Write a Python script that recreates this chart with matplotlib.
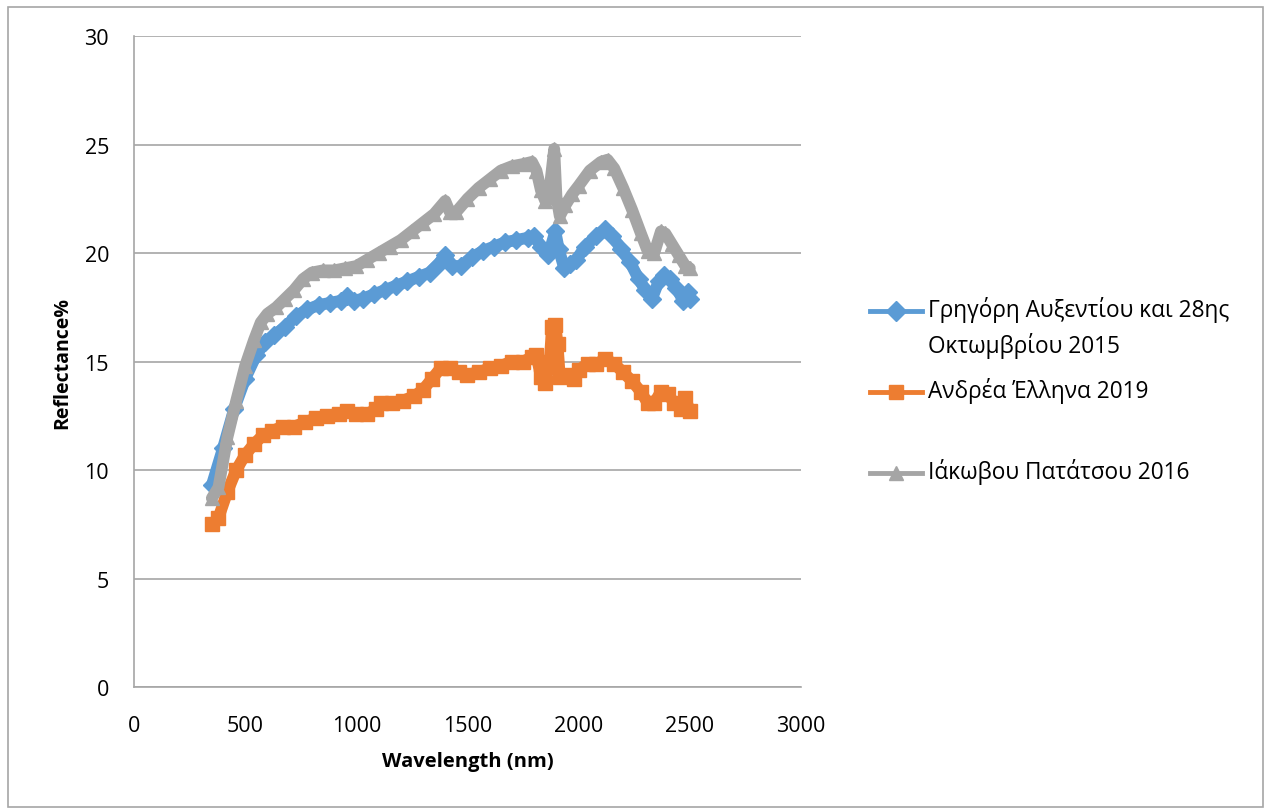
#! /usr/bin/env python
# -*- coding: utf-8 -*-
"""Reflectance spectra of three street surfaces (Excel-style line chart)."""

import matplotlib
matplotlib.use('Agg')
import matplotlib.pyplot as plt
from matplotlib.lines import Line2D
from matplotlib.patches import Rectangle

plt.rcParams['font.family'] = ['Open Sans', 'DejaVu Sans']

# Γρηγόρη Αυξεντίου και 28ης Οκτωμβρίου 2015
wl_blue = [350, 400, 450, 500, 550, 590, 630, 680, 730, 780, 830, 880, 930,
           960, 990, 1030, 1080, 1130, 1180, 1230, 1280, 1330, 1370, 1400,
           1430, 1470, 1520, 1570, 1620, 1670, 1720, 1770, 1800, 1830, 1860,
           1875, 1895, 1910, 1935, 1960, 1990, 2030, 2080, 2120, 2150, 2190,
           2230, 2270, 2300, 2330, 2360, 2385, 2410, 2440, 2470, 2490, 2500]
refl_blue = [9.3, 11.0, 12.8, 14.2, 15.3, 15.9, 16.2, 16.6, 17.1, 17.4, 17.6,
             17.7, 17.8, 18.0, 17.8, 17.9, 18.1, 18.3, 18.5, 18.7, 18.9, 19.1,
             19.5, 19.9, 19.4, 19.4, 19.8, 20.1, 20.3, 20.5, 20.6, 20.7, 20.8,
             20.3, 19.9, 20.3, 21.0, 20.2, 19.3, 19.5, 19.7, 20.3, 20.8, 21.1,
             20.8, 20.2, 19.6, 18.8, 18.3, 17.9, 18.7, 19.0, 18.8, 18.4, 17.8,
             18.2, 17.9]

# Ανδρέα Έλληνα 2019
wl_orange = [350, 380, 420, 460, 500, 540, 580, 620, 670, 720, 770, 820, 870,
             920, 960, 1000, 1050, 1090, 1110, 1160, 1210, 1260, 1300, 1340,
             1380, 1420, 1460, 1500, 1550, 1600, 1650, 1700, 1750, 1790, 1810,
             1830, 1850, 1870, 1880, 1895, 1905, 1915, 1940, 1980, 2000, 2040,
             2080, 2120, 2160, 2200, 2240, 2280, 2310, 2340, 2370, 2400, 2430,
             2460, 2480, 2500]
refl_orange = [7.5, 7.8, 9.0, 10.0, 10.7, 11.2, 11.6, 11.8, 12.0, 12.0, 12.2,
               12.4, 12.5, 12.6, 12.7, 12.6, 12.6, 12.8, 13.1, 13.1, 13.2, 13.4,
               13.7, 14.2, 14.7, 14.7, 14.5, 14.4, 14.5, 14.7, 14.8, 15.0, 15.0,
               15.2, 15.3, 14.3, 14.0, 15.0, 16.6, 16.7, 15.8, 14.3, 14.4, 14.2,
               14.6, 14.9, 14.9, 15.1, 14.9, 14.5, 14.1, 13.6, 13.1, 13.1, 13.6,
               13.5, 13.1, 12.8, 13.3, 12.7]

# Ιάκωβου Πατάτσου 2016
wl_gray = [350, 380, 420, 460, 500, 540, 570, 600, 640, 680, 720, 760, 800,
           850, 900, 950, 1000, 1050, 1100, 1150, 1200, 1250, 1300, 1350, 1400,
           1420, 1450, 1500, 1550, 1600, 1650, 1700, 1750, 1790, 1810, 1830,
           1850, 1870, 1890, 1900, 1915, 1940, 1970, 2000, 2050, 2100, 2130,
           2160, 2200, 2240, 2280, 2310, 2340, 2370, 2390, 2420, 2450, 2480,
           2500]
refl_gray = [8.7, 9.2, 11.5, 13.2, 14.8, 16.0, 16.8, 17.2, 17.5, 17.9, 18.3,
             18.8, 19.1, 19.2, 19.2, 19.3, 19.4, 19.7, 20.0, 20.3, 20.6, 21.0,
             21.4, 21.8, 22.4, 21.9, 21.9, 22.5, 23.0, 23.4, 23.8, 24.0, 24.1,
             24.2, 23.8, 22.9, 22.4, 23.0, 24.8, 22.6, 21.7, 22.2, 22.7, 23.1,
             23.8, 24.2, 24.3, 23.9, 23.0, 22.0, 20.9, 20.1, 20.0, 21.0, 20.9,
             20.4, 19.9, 19.4, 19.3]

labels = ['Γρηγόρη Αυξεντίου και 28ης\nΟκτωμβρίου 2015',
          'Ανδρέα Έλληνα 2019',
          'Ιάκωβου Πατάτσου 2016']
colors = ['#5B9BD5', '#ED7D31', '#A5A5A5']
markers = ['D', 's', '^']


def main():
    fig = plt.figure(figsize=(12.69, 8.12), dpi=100)
    ax = fig.add_axes([0.1056, 0.1527, 0.5256, 0.8017])

    series = [(wl_blue, refl_blue), (wl_orange, refl_orange),
              (wl_gray, refl_gray)]
    for (wl, refl), c, m in zip(series, colors, markers):
        ax.plot(wl, refl, color=c, lw=8.5, marker=m, ms=9.5, mec=c, mfc=c,
                solid_joinstyle='round', solid_capstyle='round')

    ax.set_xlim(0, 3000)
    ax.set_ylim(0, 30)
    ax.set_xticks(range(0, 3001, 500))
    ax.set_yticks(range(0, 31, 5))
    ax.tick_params(length=0, labelsize=15.5, colors='black')
    ax.tick_params(axis='y', pad=18)
    ax.tick_params(axis='x', pad=20)
    ax.grid(axis='y', color='#A6A6A6', lw=1.2)
    ax.set_axisbelow(True)
    for side in ['top', 'right']:
        ax.spines[side].set_visible(False)
    for side in ['left', 'bottom']:
        ax.spines[side].set_color('#A6A6A6')
        ax.spines[side].set_linewidth(1.2)

    ax.set_xlabel('Wavelength (nm)', fontsize=14.5, fontweight='bold',
                  labelpad=11)
    ax.set_ylabel('Reflectance%', fontsize=14, fontweight='bold',
                  labelpad=9)

    # legend drawn by hand, Excel style (marker level with first text line)
    legend_y = [1 - 312 / 812, 1 - 393 / 812, 1 - 474 / 812]
    x0, x1 = 870 / 1269, 922 / 1269
    for y, lab, c, m in zip(legend_y, labels, colors, markers):
        fig.add_artist(Line2D([x0, x1], [y, y], color=c, lw=3.5))
        fig.add_artist(Line2D([(x0 + x1) / 2], [y], color=c, marker=m,
                              ms=10, mfc=c, mec=c, lw=0))
        fig.text(928 / 1269, y + 0.018, lab, fontsize=16.3, va='top',
                 linespacing=1.5)

    # chart border
    fig.add_artist(Rectangle((8 / 1269, 4 / 812), 1255 / 1269, 800 / 812,
                             fill=False, ec='#A6A6A6', lw=1.2,
                             transform=fig.transFigure))

    fig.savefig('out.png', dpi=100)
    return 0


if __name__ == '__main__':
    main()
